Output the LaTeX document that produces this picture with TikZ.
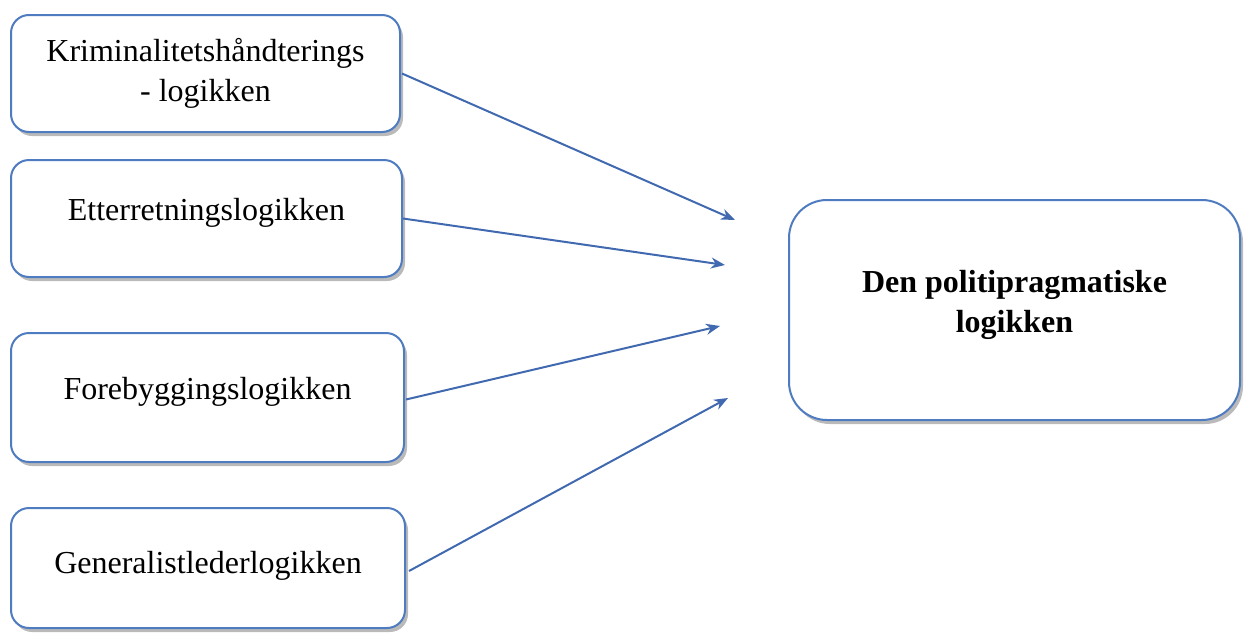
\documentclass[tikz,border=0pt]{standalone}
\usepackage{fontspec}
\setmainfont{Liberation Serif}
\usetikzlibrary{shadows,arrows.meta}
\definecolor{boxblue}{HTML}{4F7BC0}
\definecolor{arrowblue}{HTML}{4169B0}
\tikzset{
  logicbox/.style={draw=boxblue, line width=2pt, fill=white, rounded corners=18pt,
    align=center, font=\fontsize{32}{40}\selectfont,
    drop shadow={shadow xshift=3pt, shadow yshift=-4pt, opacity=0.45, fill=black!60}},
  bigbox/.style={logicbox, rounded corners=38pt, font=\bfseries\fontsize{32}{40}\selectfont},
  flow/.style={draw=arrowblue, line width=2pt, -{Stealth[length=14pt,width=11pt]}}
}
\begin{document}
\begin{tikzpicture}[x=1pt,y=-1pt]
\useasboundingbox (0,0) rectangle (1245,635);
\node[logicbox, minimum width=389pt, minimum height=117pt] (b1) at (205.5,73.5) {Kriminalitetshåndterings\\- logikken};
\node[logicbox, minimum width=391pt, minimum height=117pt, text depth=19pt] (b2) at (206.5,218.5) {Etterretningslogikken};
\node[logicbox, minimum width=393pt, minimum height=129pt, text depth=19pt] (b3) at (207.5,397.5) {Forebyggingslogikken};
\node[logicbox, minimum width=394pt, minimum height=120pt, text depth=11pt] (b4) at (208,568) {Generalistlederlogikken};
\node[bigbox, minimum width=451pt, minimum height=220pt, text depth=18pt] (t) at (1014.5,310) {Den politipragmatiske\\logikken};
\coordinate (e1) at (735,220);
\coordinate (e2) at (725,265);
\coordinate (e3) at (720,326);
\coordinate (e4) at (728,398);
\draw[flow] ([xshift=1pt]b1.east) -- (e1);
\draw[flow] (b2.east) -- (e2);
\draw[flow] ([xshift=1pt,yshift=-2pt]b3.east) -- (e3);
\draw[flow] ([xshift=3pt,yshift=-3pt]b4.east) -- (e4);
\end{tikzpicture}
\end{document}
